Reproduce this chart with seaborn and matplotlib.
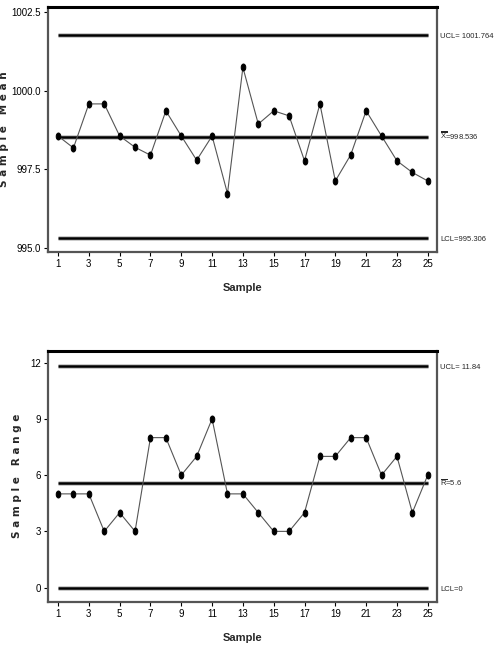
import numpy as np
import pandas as pd
import seaborn as sns
import matplotlib.pyplot as plt
import matplotlib.transforms as mtransforms
from matplotlib.path import Path

# dati
samples = list(range(1, 26))
sample_means = [998.56, 998.18, 999.58, 999.58, 998.56, 998.20, 997.95, 999.36, 998.56, 997.79,
                998.56, 996.73, 1000.74, 998.94, 999.36, 999.20, 997.77, 999.58, 997.13, 997.96,
                999.36, 998.56, 997.77, 997.40, 997.13]
sample_ranges = [5, 5, 5, 3, 4, 3, 8, 8, 6, 7, 9, 5, 5, 4, 3, 3, 4, 7, 7, 8, 8, 6, 7, 4, 6]

xbar_limits = [1001.764, 998.536, 995.306]
xbar_labels = ["UCL= 1001.764", r"$\overline{\overline{\mathrm{X}}}$=998.536", "LCL=995.306"]
r_limits = [11.84, 5.6, 0.0]
r_labels = ["UCL= 11.84", r"$\overline{\mathrm{R}}$=5.6", "LCL=0"]

xbar_ticks = [995.0, 997.5, 1000.0, 1002.5]
r_ticks = [0, 3, 6, 9, 12]
x_ticks = list(range(1, 26, 2))

sns.set_style("ticks")
plt.rcParams["font.family"] = ["Liberation Sans", "DejaVu Sans"]
plt.rcParams["mathtext.fontset"] = "custom"
plt.rcParams["mathtext.rm"] = "Liberation Sans"

df = pd.DataFrame({"Sample": samples, "Mean": sample_means, "Range": sample_ranges})

# marker ovale (piu' alto che largo, come nel grafico originale)
circ = Path.unit_circle()
oval = Path(circ.vertices * [0.65, 1.0], circ.codes)


def draw_chart(fig, ax, col, limits, labels, yticks, ylim, yfmt, ylabel, ylabel_x):
    # linee di controllo
    for val in limits:
        ax.hlines(val, 1, 25, color="#c4c4c4", lw=3.4, zorder=1)
        ax.hlines(val, 1, 25, color="black", lw=1.8, zorder=2)
    sns.lineplot(data=df, x="Sample", y=col, ax=ax, color="#555555", lw=0.8,
                 marker=oval, markersize=5, markerfacecolor="black",
                 markeredgecolor="black", zorder=3)

    # etichette dei limiti a destra (baseline spostata per centrare sulla linea)
    trans = mtransforms.blended_transform_factory(ax.transAxes, ax.transData)
    trans = mtransforms.offset_copy(trans, fig=fig, y=-2.2, units="points")
    for val, lab in zip(limits, labels):
        ax.text(1.008, val, lab, transform=trans, va="baseline", ha="left", fontsize=5.5)

    ax.set_xlim(0.35, 25.6)
    ax.set_ylim(*ylim)
    ax.set_xticks(x_ticks)
    ax.set_yticks(yticks)
    ax.set_yticklabels([yfmt.format(t) for t in yticks])
    ax.tick_params(labelsize=7, length=3, width=0.8, pad=2, colors="black")
    ax.set_xlabel("Sample", fontsize=8, fontweight="bold", labelpad=10)
    spaced = "   ".join(" ".join(w) for w in ylabel.split())
    ax.set_ylabel(spaced, fontsize=7.5, fontweight="bold", family="DejaVu Sans")
    ax.yaxis.set_label_coords(ylabel_x, 0.5)
    for side in ["left", "bottom", "right"]:
        ax.spines[side].set_visible(True)
        ax.spines[side].set_color("#555555")
        ax.spines[side].set_linewidth(1.6)
    ax.spines["top"].set_visible(True)
    ax.spines["top"].set_color("black")
    ax.spines["top"].set_linewidth(2.2)


fig = plt.figure(figsize=(4.94, 6.58), dpi=100)
ax1 = fig.add_axes([0.0972, 0.617, 0.7874, 0.3723])
ax2 = fig.add_axes([0.0972, 0.0856, 0.7874, 0.3815])

draw_chart(fig, ax1, "Mean", xbar_limits, xbar_labels, xbar_ticks, (994.87, 1002.66),
           "{:.1f}", "Sample Mean", -0.1)
draw_chart(fig, ax2, "Range", r_limits, r_labels, r_ticks, (-0.75, 12.64),
           "{:d}", "Sample Range", -0.068)

fig.savefig("out.png", dpi=100)
plt.close(fig)
